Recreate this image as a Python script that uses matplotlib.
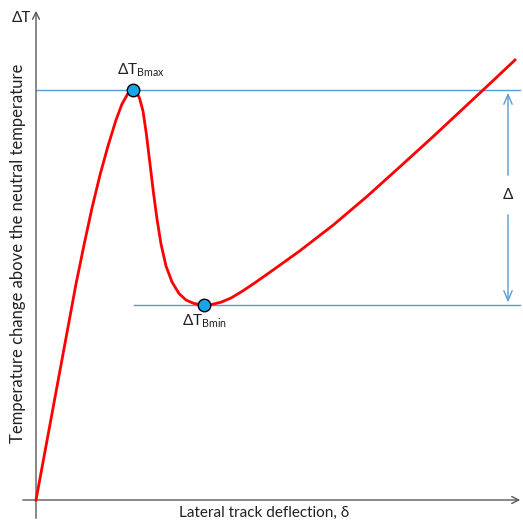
import numpy as np
import matplotlib.pyplot as plt

plt.rcParams['font.family'] = ['Lato', 'DejaVu Sans']

# curve (deflection, temperature change), arbitrary units
defl = [0, 20, 40, 48, 56, 64, 72, 80, 86, 92, 96.7,
        100, 103.5, 107, 110.5, 114, 117.5, 121, 125, 130, 136, 143, 150, 158, 168,
        176, 185, 195, 206, 218, 232, 248, 264, 297.3, 330.7, 364, 397, 431, 446, 479]
temp = [0, 108, 216, 255, 292, 325, 354, 380, 396, 406.5, 410,
        408.5, 402, 389, 365, 336, 307, 281, 256, 234, 218, 206.5, 200, 196.5, 195,
        195.6, 197.8, 202, 208.6, 216.6, 226.4, 237.8, 249.3, 275, 303.3, 333.3, 363.3, 395, 409, 440]

bmax = (96.7, 410)
bmin = (168, 195)
line_end = 484
bmin_line_start = 98
delta_x = 472

axis_col = '#595959'
blue = '#5b9bd5'
txt_col = '#222222'

fig = plt.figure(figsize=(5.23, 5.22), dpi=100)
ax = fig.add_axes([0, 0, 1, 1])
ax.set_xlim(-36, 487)
ax.set_ylim(-22, 500)
ax.axis('off')

# axes with arrows
ax.annotate('', xy=(0, 492), xytext=(0, -21),
            arrowprops=dict(arrowstyle='->,head_length=0.5,head_width=0.25', color=axis_col, lw=1))
ax.annotate('', xy=(487, 0), xytext=(-16, 0),
            arrowprops=dict(arrowstyle='->,head_length=0.5,head_width=0.25', color=axis_col, lw=1))

# reference lines
ax.plot([0, line_end], [bmax[1], bmax[1]], color=blue, lw=1)
ax.plot([bmin_line_start, line_end], [bmin[1], bmin[1]], color=blue, lw=1)

# curve
ax.plot(defl, temp, color='red', lw=2, zorder=3, solid_joinstyle='round')
ax.plot([bmax[0], bmin[0]], [bmax[1], bmin[1]], 'o', ms=9, mfc='#1aa3e8', mec='black',
        mew=1, zorder=4)

# delta dimension arrow
mid = 305
ax.annotate('', xy=(delta_x, bmax[1]), xytext=(delta_x, mid + 17),
            arrowprops=dict(arrowstyle='->,head_length=0.7,head_width=0.3', color=blue, lw=1))
ax.annotate('', xy=(delta_x, bmin[1]), xytext=(delta_x, mid - 17),
            arrowprops=dict(arrowstyle='->,head_length=0.7,head_width=0.3', color=blue, lw=1))
ax.text(delta_x, mid, 'Δ', ha='center', va='center', fontsize=11, color=txt_col)

# labels
ax.text(-24, 482, 'ΔT', ha='left', va='center', fontsize=11, color=txt_col)
ax.text(105, 430, r'ΔT$_{\mathregular{Bmax}}$', ha='center', va='center', fontsize=11, color=txt_col)
ax.text(168, 179, r'ΔT$_{\mathregular{Bmin}}$', ha='center', va='center', fontsize=11, color=txt_col)
ax.text(228, -13, 'Lateral track deflection, δ', ha='center', va='center', fontsize=11, color=txt_col)
ax.text(-18, 247, 'Temperature change above the neutral temperature', ha='center', va='center',
        rotation=90, fontsize=12, color=txt_col)

fig.savefig('out.png', dpi=100)
